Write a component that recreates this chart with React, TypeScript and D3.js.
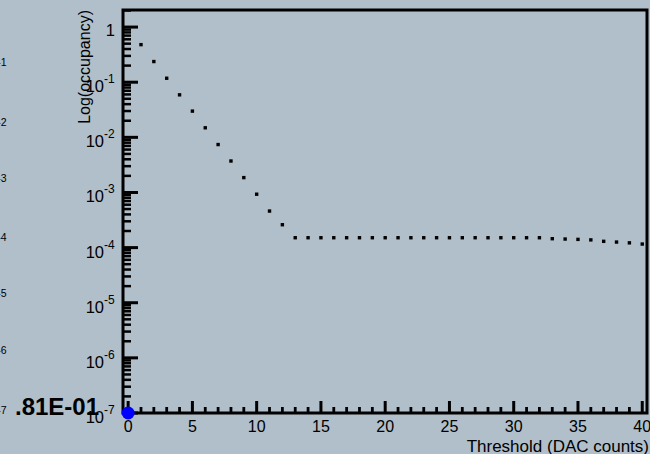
import React from "react";
import * as d3 from "d3";

const thresholds = [1,2,3,4,5,6,7,8,9,10,11,12,13,14,15,16,17,18,19,20,21,22,23,24,25,26,27,28,29,30,31,32,33,34,35,36,37,38,39,40];
const occupancy = [
  0.48, 0.237, 0.118, 0.059, 0.0299, 0.0149, 0.0074, 0.00372, 0.00186, 0.00093,
  4.6e-4, 2.6e-4, 1.51e-4, 1.51e-4, 1.51e-4, 1.51e-4, 1.51e-4, 1.51e-4, 1.51e-4, 1.51e-4,
  1.51e-4, 1.51e-4, 1.51e-4, 1.51e-4, 1.51e-4, 1.51e-4, 1.51e-4, 1.51e-4, 1.51e-4, 1.51e-4,
  1.51e-4, 1.51e-4, 1.45e-4, 1.43e-4, 1.41e-4, 1.38e-4, 1.30e-4, 1.26e-4, 1.22e-4, 1.16e-4,
];
const markerPoint = { x: 0, y: 1e-7 };
const xTicksMajor = [0, 5, 10, 15, 20, 25, 30, 35, 40];
const xTicksMinor = [1,2,3,4,6,7,8,9,11,12,13,14,16,17,18,19,21,22,23,24,26,27,28,29,31,32,33,34,36,37,38,39];
const yDecades = [0, -1, -2, -3, -4, -5, -6, -7];
const yMinorMultipliers = [2, 3, 4, 5, 6, 7, 8, 9];
const strayLabels = ["-1", "-2", "-3", "-4", "-5", "-6", "-7"];
const strayY = [62, 122, 178, 237, 293, 350, 410];
const overlayText = ".81E-01";
const xTitle = "Threshold (DAC counts)";
const yTitle = "Log(occupancy)";

const W = 650, H = 454;
const L = 123, R = 647, T = 10, B = 413;
const BG = "#b1bfca";
const INK = "#000000";
const FONT = "'Liberation Sans', Arial, Helvetica, sans-serif";

export default function App() {
  const x = d3.scaleLinear().domain([-0.4, 40.37]).range([L, R]);
  const y = d3.scaleLog().domain([1e-7, 2.04]).range([B, T]);

  const yMinor: number[] = [];
  yDecades.forEach((k) => {
    yMinorMultipliers.forEach((m) => {
      const v = m * Math.pow(10, k);
      if (v <= 2.04) yMinor.push(v);
    });
  });

  return (
    <svg width={W} height={H} style={{ position: "absolute", left: 0, top: 0 }} fontFamily={FONT}>
      <rect x={0} y={0} width={W} height={H} fill={BG} />

      {strayLabels.map((s, i) => (
        <text key={"s" + s} x={6.5} y={strayY[i] + 4} fontSize={10.5} textAnchor="end" fill={INK}>{s}</text>
      ))}

      <rect x={L} y={T} width={R - L} height={B - T} fill="none" stroke={INK} strokeWidth={3} />

      {xTicksMajor.map((v) => (
        <line key={"xM" + v} x1={x(v)} x2={x(v)} y1={B} y2={B - 12} stroke={INK} strokeWidth={3} />
      ))}
      {xTicksMinor.map((v) => (
        <line key={"xm" + v} x1={x(v)} x2={x(v)} y1={B} y2={B - 6} stroke={INK} strokeWidth={2.8} />
      ))}
      {yDecades.map((k) => (
        <line key={"yM" + k} x1={L} x2={L + 15} y1={y(Math.pow(10, k))} y2={y(Math.pow(10, k))} stroke={INK} strokeWidth={3} />
      ))}
      {yMinor.map((v, i) => (
        <line key={"ym" + i} x1={L} x2={L + 8} y1={y(v)} y2={y(v)} stroke={INK} strokeWidth={2.5} />
      ))}

      {xTicksMajor.map((v) => (
        <text key={"xl" + v} x={x(v)} y={B + 19} fontSize={16} textAnchor="middle" fill={INK}>{v}</text>
      ))}

      {yDecades.map((k) => {
        const yy = y(Math.pow(10, k));
        if (k === 0) {
          return <text key={"yl" + k} x={115} y={yy + 9} fontSize={16.5} textAnchor="end" fill={INK}>1</text>;
        }
        return (
          <g key={"yl" + k}>
            <text x={104} y={yy + 10} fontSize={16.5} textAnchor="end" fill={INK}>10</text>
            <text x={104} y={yy + 1} fontSize={12} textAnchor="start" fill={INK}>{"-" + -k}</text>
          </g>
        );
      })}

      <text x={649} y={452} fontSize={17} textAnchor="end" fill={INK}>{xTitle}</text>
      <text transform={`translate(90, 10) rotate(-90)`} fontSize={16} textAnchor="end" fill={INK}>{yTitle}</text>

      {thresholds.map((t, i) => (
        <rect key={"p" + t} x={x(t) - 1.7} y={y(occupancy[i]) - 1.7} width={3.4} height={3.4} fill="#000" />
      ))}

      <circle cx={x(markerPoint.x)} cy={y(markerPoint.y)} r={6.5} fill="#0000ff" />

      <text x={15} y={415} fontSize={24} fontWeight="bold" fill={INK}>{overlayText}</text>
    </svg>
  );
}
